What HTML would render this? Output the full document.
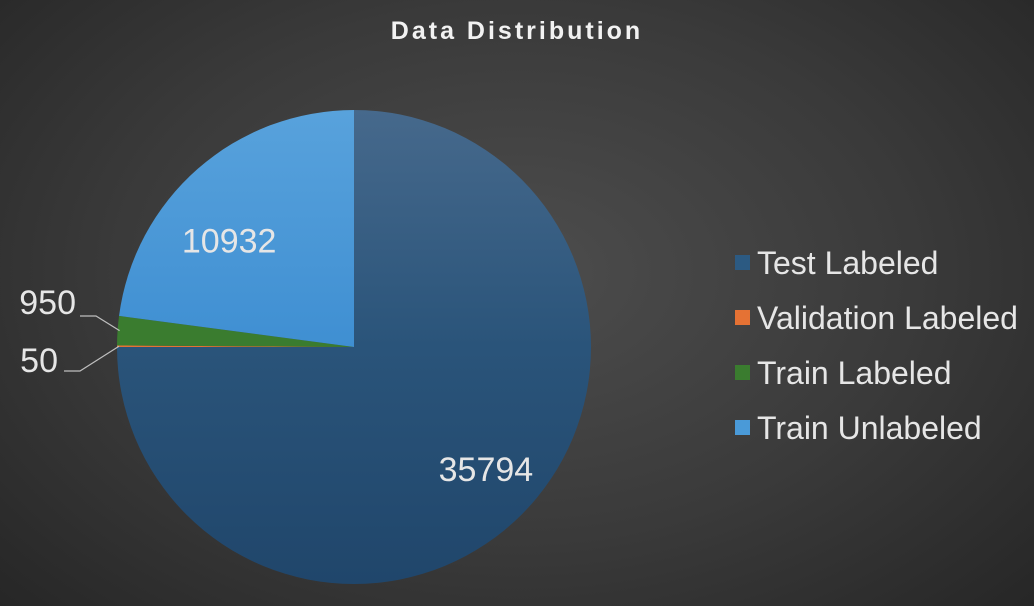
<!DOCTYPE html>
<html><head><meta charset="utf-8">
<style>
html,body{margin:0;padding:0;}
body{width:1034px;height:606px;overflow:hidden;background:radial-gradient(ellipse 70% 80% at 50% 45%,#4d4d4d 0%,#3a3a3a 55%,#262626 100%);font-family:"Liberation Sans",sans-serif;}
svg{display:block}
</style></head>
<body>
<svg id="chart" width="1034" height="606" xmlns="http://www.w3.org/2000/svg">
<defs>
<linearGradient id="gTest" x1="0" y1="0" x2="0" y2="1"><stop offset="0" stop-color="#46698c"/><stop offset="0.5" stop-color="#2a547a"/><stop offset="1" stop-color="#20466b"/></linearGradient>
<linearGradient id="gUn" x1="0" y1="0" x2="0" y2="1"><stop offset="0" stop-color="#58a2dc"/><stop offset="1" stop-color="#3f8fd2"/></linearGradient>
</defs>
<text x="517" y="39" text-anchor="middle" fill="#f2f2f2" font-size="25" font-weight="bold" letter-spacing="3">Data Distribution</text>
<g id="slices"></g>
<g id="labels"></g>
<g id="legend"></g>
</svg>
<script>
const categories = ["Test Labeled","Validation Labeled","Train Labeled","Train Unlabeled"];
const values = [35794, 50, 950, 10932];
const colors = ["url(#gTest)","#e57234","#3a7c2f","url(#gUn)"];
const legendColors = ["#2c5a82","#e57234","#3a7c2f","#4a9ad8"];
const NS="http://www.w3.org/2000/svg";
const cx=354, cy=347, r=237;
const total=values.reduce((a,b)=>a+b,0);
function pt(a,rr){return [cx+rr*Math.sin(a), cy-rr*Math.cos(a)];}
const gs=document.getElementById('slices'), gl=document.getElementById('labels'), gg=document.getElementById('legend');
let a0=0;
const mids=[];
values.forEach((v,i)=>{
  const a1=a0+v/total*2*Math.PI;
  const p0=pt(a0,r), p1=pt(a1,r);
  const large=(a1-a0)>Math.PI?1:0;
  const p=document.createElementNS(NS,'path');
  p.setAttribute('d',`M${cx},${cy} L${p0[0]},${p0[1]} A${r},${r} 0 ${large} 1 ${p1[0]},${p1[1]} Z`);
  p.setAttribute('fill',colors[i]);
  
  
  gs.appendChild(p);
  mids.push((a0+a1)/2);
  a0=a1;
});
function addText(x,y,t,anchor,name){
  const e=document.createElementNS(NS,'text');
  e.setAttribute('x',x);e.setAttribute('y',y);e.setAttribute('fill','#e6e6e6');
  e.setAttribute('font-size','34');e.setAttribute('text-anchor',anchor);
  e.textContent=t;
  
  
  gl.appendChild(e);
}
function addLine(x1,y1,x2,y2,x3,y3,name){
  const e=document.createElementNS(NS,'polyline');
  e.setAttribute('points',`${x1},${y1} ${x2},${y2} ${x3},${y3}`);
  e.setAttribute('fill','none');e.setAttribute('stroke','#bfbfbf');e.setAttribute('stroke-width','1.2');
  
  
  gl.appendChild(e);
}
values.forEach((v,i)=>{
  const nm='data-label-'+categories[i].toLowerCase().replace(/ /g,'-');
  if(v/total>0.05){
    const p=pt(mids[i],r*0.62);
    const dx = i===0 ? 28 : -28;
    const dy = i===0 ? 18 : 4;
    addText(p[0]+dx,p[1]+12+dy,String(v),'middle',nm);
  }
});
{
  const p=pt(mids[2],r);
  addText(76,314,String(values[2]),'end','data-label-train-labeled');
  addLine(80,316,96,316,p[0]+2,p[1]);
  const q=pt(mids[1],r);
  addText(58,372,String(values[1]),'end','data-label-validation-labeled');
  addLine(64,371,80,371,q[0]+2,q[1]);
}
categories.forEach((c,i)=>{
  const y=263+i*55;
  const g=document.createElementNS(NS,'g');
  
  
  const s=document.createElementNS(NS,'rect');
  s.setAttribute('x',735);s.setAttribute('y',y-8);s.setAttribute('width',15);s.setAttribute('height',15);
  s.setAttribute('fill',legendColors[i]);
  const t=document.createElementNS(NS,'text');
  t.setAttribute('x',757);t.setAttribute('y',y+11);t.setAttribute('fill','#e6e6e6');t.setAttribute('font-size','32');
  t.textContent=c;
  g.appendChild(s);g.appendChild(t);gg.appendChild(g);
});
</script>
</body></html>
